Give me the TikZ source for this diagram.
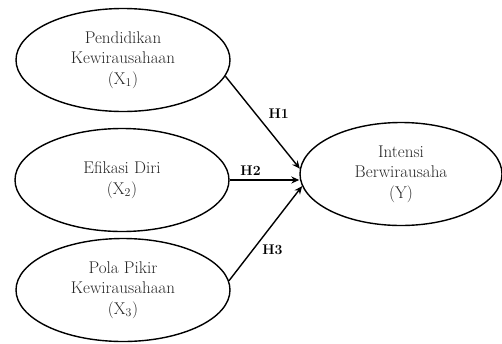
\documentclass[tikz,border=0pt]{standalone}
\usetikzlibrary{shapes.geometric,arrows.meta}
\begin{document}
\begin{tikzpicture}[x=1pt,y=-1pt,
  latent/.style={draw, line width=1.4pt, ellipse, minimum width=214pt, minimum height=103pt, inner sep=0pt, align=center, font=\fontsize{17}{20.5}\selectfont, text=black!85},
  path/.style={line width=1.4pt, -{Stealth[length=8pt,width=7pt]}},
  hlab/.style={font=\fontsize{14}{15}\selectfont\bfseries}]
\useasboundingbox (0,0) rectangle (502,343);
\node[latent] (x1) at (123,60) {Pendidikan\\Kewirausahaan\\(X\textsubscript{1})};
\node[latent] (x2) at (122,180) {Efikasi Diri\\(X\textsubscript{2})};
\node[latent] (x3) at (123,290) {Pola Pikir\\Kewirausahaan\\(X\textsubscript{3})};
\node[latent, minimum width=202pt, minimum height=103pt] (y) at (401,174) {Intensi\\Berwirausaha\\(Y)};
\draw[path] (x1.-9) -- (y.177) node[hlab, pos=0.5, above right, xshift=2pt] {H1};
\draw[path] (x2.east) -- (x2.east -| y.west) node[hlab, pos=0.3, above] {H2};
\draw[path] (x3.5) -- (y.187) node[hlab, pos=0.4, anchor=west, yshift=-7pt] {H3};
\end{tikzpicture}
\end{document}
